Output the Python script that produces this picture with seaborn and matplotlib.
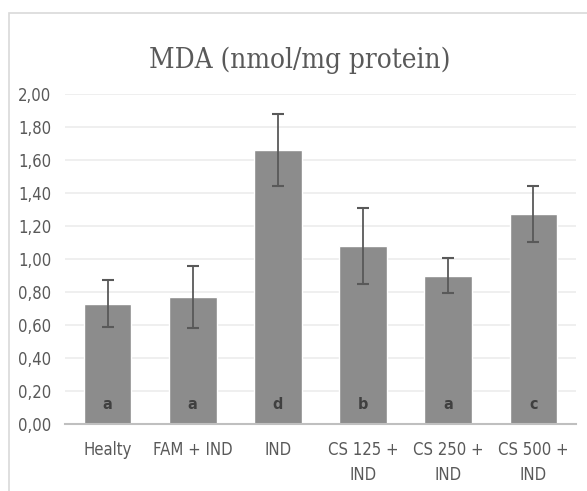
import pandas as pd
import seaborn as sns
import matplotlib.pyplot as plt
from matplotlib.patches import Rectangle

groups = ["Healty", "FAM + IND", "IND", "CS 125 +\nIND", "CS 250 +\nIND", "CS 500 +\nIND"]
mda = [0.73, 0.77, 1.66, 1.08, 0.90, 1.27]
err = [0.14, 0.19, 0.22, 0.23, 0.105, 0.17]
letters = ["a", "a", "d", "b", "a", "c"]

df = pd.DataFrame({"group": groups, "mda": mda, "err": err, "letter": letters})

sns.set_style("white")
plt.rcParams['font.family'] = ['DejaVu Sans']
plt.rcParams['font.stretch'] = 'condensed'

fig = plt.figure(figsize=(5.87, 4.91), dpi=100)
ax = fig.add_axes([65/587, 1-424/491, 511/587, 330/491])

# outer chart frame (cut off on right and bottom, like the screenshot)
fig.patches.append(Rectangle((9/587, -0.1), 1.0, 1.1 - 13/491, transform=fig.transFigure,
                             fill=False, edgecolor="#d9d9d9", linewidth=1.2))

sns.barplot(data=df, x="group", y="mda", color="#8c8c8c", saturation=1, width=0.56,
            errorbar=None, ax=ax, zorder=2)
ax.errorbar(range(len(df)), df.mda, yerr=df.err, fmt="none", ecolor="#595959",
            elinewidth=1.3, capsize=4, capthick=1.5, zorder=3)

for i, l in enumerate(df.letter):
    ax.text(i, 0.12, l, ha="center", va="center", fontsize=11.5, fontweight="bold",
            color="#404040", zorder=4)

ax.set_ylim(0, 2)
ax.set_xlim(-0.5, 5.5)
ax.set_yticks([i * 0.2 for i in range(11)])
ax.set_yticklabels(["{:.2f}".format(i * 0.2).replace(".", ",") for i in range(11)])
ax.yaxis.grid(True, color="#ececec", linewidth=1.2, zorder=0)
ax.set_axisbelow(True)
for s in ["top", "right", "left"]:
    ax.spines[s].set_visible(False)
ax.spines["bottom"].set_color("#bfbfbf")
ax.spines["bottom"].set_linewidth(1.5)
ax.tick_params(axis="both", length=0, labelsize=12, labelcolor="#595959")
ax.tick_params(axis="x", pad=12)
ax.tick_params(axis="y", pad=10)
for t in ax.get_xticklabels():
    t.set_linespacing(1.55)
ax.set_xlabel("")
ax.set_ylabel("")

fig.text(300/587, 1-60/491, "MDA (nmol/mg protein)", ha="center", va="center",
         fontsize=20, color="#595959", family=["DejaVu Serif"], fontstretch="condensed")

plt.savefig("out.png", dpi=100)
plt.close()
